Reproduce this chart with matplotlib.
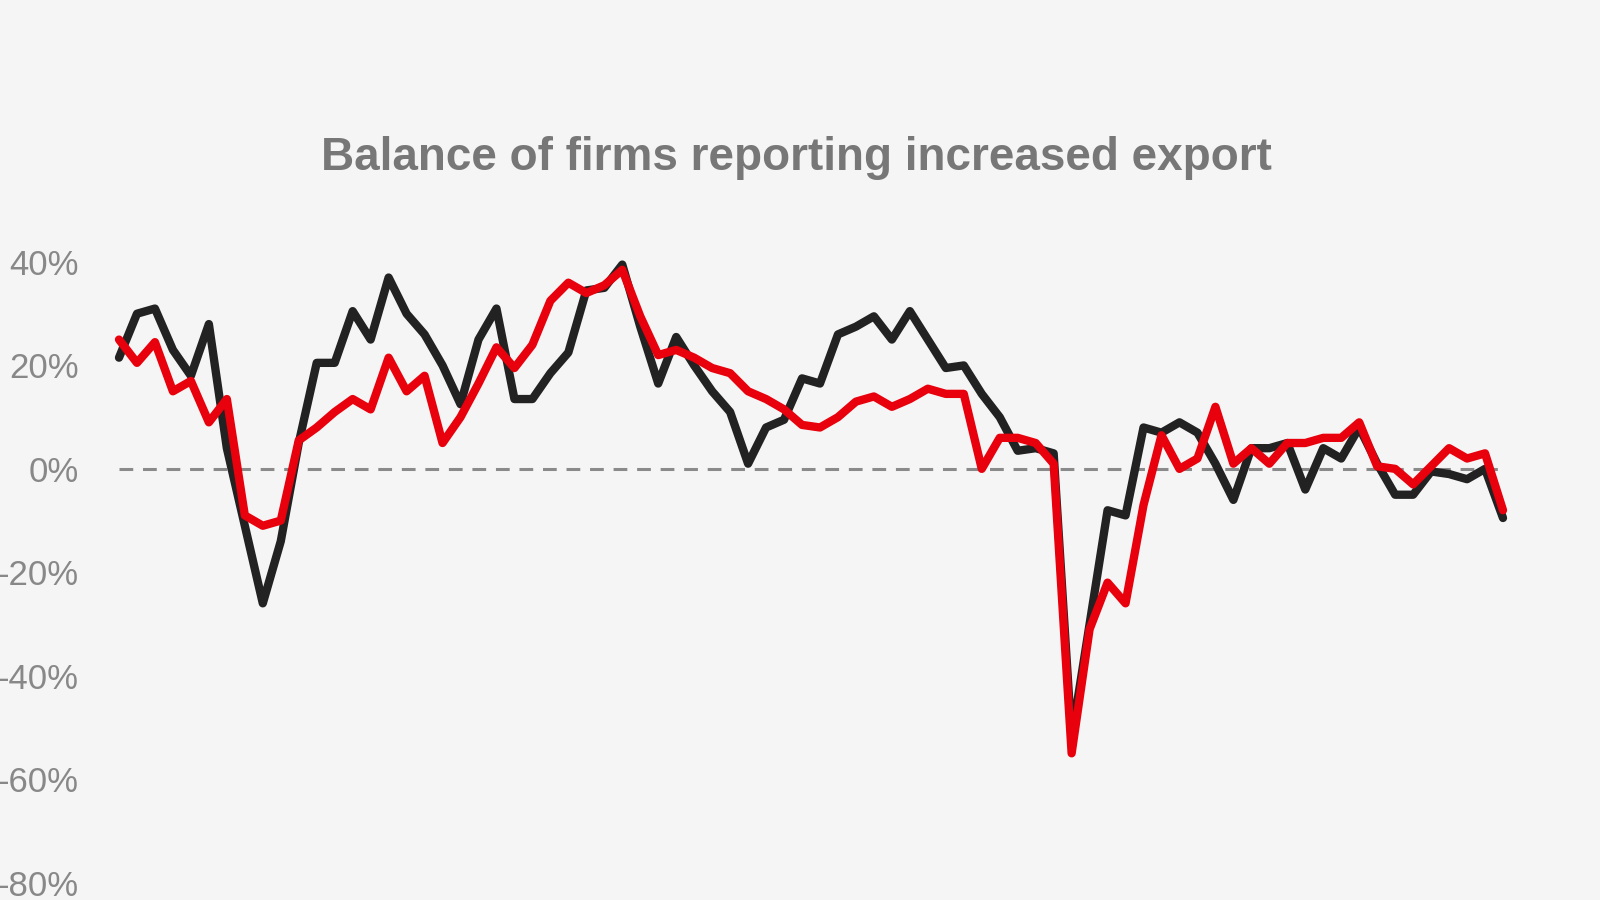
import numpy as np
import matplotlib
matplotlib.use('Agg')
import matplotlib.pyplot as plt
from matplotlib.ticker import FuncFormatter

# balance of firms, % (quarterly readings)
black_series = [21.5, 30, 31, 23, 18, 28, 4, -11, -26, -14,
                5, 20.5, 20.5, 30.5, 25, 37, 30, 26, 20, 12.5,
                25, 31, 13.5, 13.5, 18.5, 22.5, 34.5, 35, 39.5, 27.5,
                16.5, 25.5, 20, 15, 11, 1, 8, 9.5, 17.5, 16.5,
                26, 27.5, 29.5, 25, 30.5, 25, 19.5, 20, 14.5, 10,
                3.5, 4, 3, -52, -30, -8, -9, 8, 7, 9,
                7, 1, -6, 4, 4, 5, -4, 4, 2, 8,
                1, -5, -5, -0.5, -1, -2, 0, -9.5]
red_series = [25, 20.5, 24.5, 15, 17, 9, 13.5, -9, -11, -10,
              5.5, 8, 11, 13.5, 11.5, 21.5, 15, 18, 5, 10,
              16.5, 23.5, 19.5, 24, 32.5, 36, 34, 35.5, 38.5, 29.5,
              22, 23, 21.5, 19.5, 18.5, 15, 13.5, 11.5, 8.5, 8,
              10, 13, 14, 12, 13.5, 15.5, 14.5, 14.5, 0, 6,
              6, 5, 1, -55, -31, -22, -26, -7, 6.5, 0,
              2, 12, 1, 4, 1, 5, 5, 6, 6, 9,
              0.5, 0, -3, 0.5, 4, 2, 3, -8]
y_ticks = [40, 20, 0, -20, -40, -60, -80]
title = 'Balance of firms reporting increased export'

bg = '#f5f5f5'
x = np.arange(len(black_series))

fig = plt.figure(figsize=(16, 9), dpi=100, facecolor=bg)
ax = fig.add_axes([119/1600, 17.4/900, (1503-119)/1600, 620.6/900])
ax.set_facecolor(bg)

ax.axhline(0, color='#8a8a8a', lw=2.2, ls=(0, (4.5, 3.2)), zorder=1)
ax.plot(x, black_series, color='#222222', lw=6, solid_joinstyle='round',
        solid_capstyle='round', clip_on=False, zorder=2)
ax.plot(x, red_series, color='#e8000c', lw=6, solid_joinstyle='round',
        solid_capstyle='round', clip_on=False, zorder=3)

ax.set_xlim(0, len(x) - 1)
ax.set_ylim(-80, 40)
ax.set_yticks(y_ticks)
ax.yaxis.set_major_formatter(FuncFormatter(lambda v, p: '%d%%' % v))
ax.set_xticks([])
ax.tick_params(axis='y', length=0, pad=29, labelsize=25, labelcolor='#888888')
for lab in ax.get_yticklabels():
    lab.set_fontfamily('Liberation Sans')
for s in ax.spines.values():
    s.set_visible(False)

fig.text(796/1600, 1 - 170/900, title, ha='center', va='baseline',
         fontsize=33, fontweight='bold', color='#777777', family='Liberation Sans')

fig.savefig('out.png', dpi=100, facecolor=bg)
